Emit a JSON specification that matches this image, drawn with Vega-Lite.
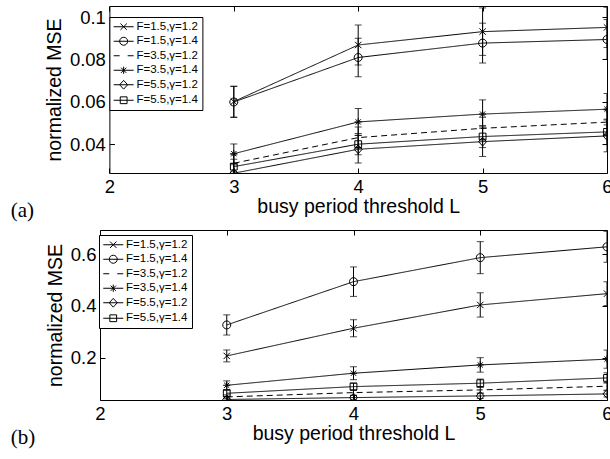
{
  "$schema": "https://vega.github.io/schema/vega-lite/v6.json",
  "padding": {"left": 10, "top": 5, "right": 0, "bottom": 0},
  "spacing": 8,
  "background": "white",
  "config": {
    "view": {"stroke": "black", "strokeWidth": 1},
    "axis": {"grid": false, "domain": false, "domainColor": "black", "domainWidth": 1, "tickColor": "black", "labelColor": "black", "titleColor": "black", "labelFont": "Liberation Sans", "titleFont": "Liberation Sans", "titleFontWeight": "normal", "labelFontSize": 18.5, "titleFontSize": 19.5, "tickSize": -5, "labelPadding": 9, "labelFlush": false, "labelOverlap": false},
    "legend": {"title": null, "padding": 4, "fillColor": "white", "strokeColor": "black", "labelFont": "Liberation Sans", "labelFontSize": 11.5, "labelColor": "black", "symbolSize": 100, "symbolStrokeColor": "black", "symbolStrokeWidth": 1, "symbolFillColor": "transparent", "symbolOpacity": 1, "symbolOffset": 4.5, "labelOffset": 7, "rowPadding": 1.5, "cornerRadius": 0}
  },
  "datasets": {
    "a": [
      {"L": 3, "series": "F=1.5,γ=1.2", "mse": 0.0601, "err": 0.0073},
      {"L": 4, "series": "F=1.5,γ=1.2", "mse": 0.0868, "err": 0.0094},
      {"L": 5, "series": "F=1.5,γ=1.2", "mse": 0.0931, "err": 0.0112},
      {"L": 6, "series": "F=1.5,γ=1.2", "mse": 0.0951, "err": 0.0095},
      {"L": 3, "series": "F=1.5,γ=1.4", "mse": 0.0599, "err": 0.0073},
      {"L": 4, "series": "F=1.5,γ=1.4", "mse": 0.0809, "err": 0.0091},
      {"L": 5, "series": "F=1.5,γ=1.4", "mse": 0.0877, "err": 0.0094},
      {"L": 6, "series": "F=1.5,γ=1.4", "mse": 0.0894, "err": 0.0094},
      {"L": 3, "series": "F=3.5,γ=1.2", "mse": 0.0310, "err": 0.0040},
      {"L": 4, "series": "F=3.5,γ=1.2", "mse": 0.0431, "err": 0.0050},
      {"L": 5, "series": "F=3.5,γ=1.2", "mse": 0.0475, "err": 0.0052},
      {"L": 6, "series": "F=3.5,γ=1.2", "mse": 0.0504, "err": 0.0058},
      {"L": 3, "series": "F=3.5,γ=1.4", "mse": 0.0355, "err": 0.0046},
      {"L": 4, "series": "F=3.5,γ=1.4", "mse": 0.0505, "err": 0.0063},
      {"L": 5, "series": "F=3.5,γ=1.4", "mse": 0.0542, "err": 0.0067},
      {"L": 6, "series": "F=3.5,γ=1.4", "mse": 0.0565, "err": 0.0074},
      {"L": 3, "series": "F=5.5,γ=1.2", "mse": 0.0263, "err": 0.0040},
      {"L": 4, "series": "F=5.5,γ=1.2", "mse": 0.0376, "err": 0.0065},
      {"L": 5, "series": "F=5.5,γ=1.2", "mse": 0.0412, "err": 0.0070},
      {"L": 6, "series": "F=5.5,γ=1.2", "mse": 0.0439, "err": 0.0075},
      {"L": 3, "series": "F=5.5,γ=1.4", "mse": 0.0294, "err": 0.0035},
      {"L": 4, "series": "F=5.5,γ=1.4", "mse": 0.0400, "err": 0.0050},
      {"L": 5, "series": "F=5.5,γ=1.4", "mse": 0.0436, "err": 0.0052},
      {"L": 6, "series": "F=5.5,γ=1.4", "mse": 0.0458, "err": 0.0060}
    ],
    "b": [
      {"L": 3, "series": "F=1.5,γ=1.2", "mse": 0.2066, "err": 0.023},
      {"L": 4, "series": "F=1.5,γ=1.2", "mse": 0.3137, "err": 0.033},
      {"L": 5, "series": "F=1.5,γ=1.2", "mse": 0.404, "err": 0.047},
      {"L": 6, "series": "F=1.5,γ=1.2", "mse": 0.4476, "err": 0.046},
      {"L": 3, "series": "F=1.5,γ=1.4", "mse": 0.3265, "err": 0.039},
      {"L": 4, "series": "F=1.5,γ=1.4", "mse": 0.494, "err": 0.057},
      {"L": 5, "series": "F=1.5,γ=1.4", "mse": 0.587, "err": 0.062},
      {"L": 6, "series": "F=1.5,γ=1.4", "mse": 0.629, "err": 0.06},
      {"L": 3, "series": "F=3.5,γ=1.2", "mse": 0.048, "err": 0.008},
      {"L": 4, "series": "F=3.5,γ=1.2", "mse": 0.0646, "err": 0.01},
      {"L": 5, "series": "F=3.5,γ=1.2", "mse": 0.075, "err": 0.012},
      {"L": 6, "series": "F=3.5,γ=1.2", "mse": 0.0893, "err": 0.015},
      {"L": 3, "series": "F=3.5,γ=1.4", "mse": 0.093, "err": 0.017},
      {"L": 4, "series": "F=3.5,γ=1.4", "mse": 0.1396, "err": 0.025},
      {"L": 5, "series": "F=3.5,γ=1.4", "mse": 0.1718, "err": 0.028},
      {"L": 6, "series": "F=3.5,γ=1.4", "mse": 0.194, "err": 0.035},
      {"L": 3, "series": "F=5.5,γ=1.2", "mse": 0.038, "err": 0.006},
      {"L": 4, "series": "F=5.5,γ=1.2", "mse": 0.0453, "err": 0.008},
      {"L": 5, "series": "F=5.5,γ=1.2", "mse": 0.0518, "err": 0.01},
      {"L": 6, "series": "F=5.5,γ=1.2", "mse": 0.0596, "err": 0.012},
      {"L": 3, "series": "F=5.5,γ=1.4", "mse": 0.062, "err": 0.012},
      {"L": 4, "series": "F=5.5,γ=1.4", "mse": 0.0878, "err": 0.014},
      {"L": 5, "series": "F=5.5,γ=1.4", "mse": 0.101, "err": 0.016},
      {"L": 6, "series": "F=5.5,γ=1.4", "mse": 0.1215, "err": 0.02}
    ]
  },
  "vconcat": [
    {
      "width": 507,
      "height": 167,
      "view": {"stroke": null},
      "data": {"name": "a"},
      "title": {"text": "(a)", "orient": "bottom", "anchor": "start", "frame": "group", "font": "Liberation Serif", "fontSize": 21, "fontWeight": "normal", "color": "black", "dx": -89.3, "dy": -16, "offset": 0},
      "resolve": {"scale": {"shape": "independent"}, "axis": {"x": "independent", "y": "independent"}},
      "layer": [
        {
          "mark": {"type": "errorbar", "ticks": {"size": 7, "color": "black"}, "color": "black", "thickness": 1, "clip": true},
          "encoding": {
            "x": {"field": "L", "type": "quantitative", "scale": {"domain": [2, 6], "range": [9.4, 507]}, "axis": null},
            "y": {"field": "mse", "type": "quantitative", "scale": {"domain": [0.0264, 0.1052]}, "axis": null},
            "yError": {"field": "err"},
            "detail": {"field": "series"}
          }
        },
        {
          "mark": {"type": "line", "color": "black", "strokeWidth": 1, "clip": true},
          "encoding": {
            "x": {"field": "L", "type": "quantitative", "scale": {"domain": [2, 6], "range": [9.4, 507]}, "axis": {"orient": "bottom", "domain": true, "values": [2, 3, 4, 5, 6], "format": "d", "title": "busy period threshold L", "titlePadding": 2}},
            "y": {"field": "mse", "type": "quantitative", "scale": {"domain": [0.0264, 0.1052]}, "axis": {"orient": "left", "domain": true, "offset": -9.4, "values": [0.04, 0.06, 0.08, 0.1], "format": "~g", "title": "normalized MSE", "titlePadding": 5}},
            "strokeDash": {"field": "series", "type": "nominal", "scale": {"domain": ["F=1.5,γ=1.2", "F=1.5,γ=1.4", "F=3.5,γ=1.2", "F=3.5,γ=1.4", "F=5.5,γ=1.2", "F=5.5,γ=1.4"], "range": [[1, 0], [1, 0], [6, 4], [1, 0], [1, 0], [1, 0]]}, "legend": null}
          }
        },
        {
          "transform": [{"filter": "datum.series != 'F=3.5,γ=1.2'"}],
          "mark": {"type": "point", "filled": false, "color": "black", "strokeWidth": 1, "size": 64, "opacity": 1, "clip": true},
          "encoding": {
            "x": {"field": "L", "type": "quantitative", "scale": {"domain": [2, 6], "range": [9.4, 507]}, "axis": {"orient": "top", "domain": true, "values": [2, 3, 4, 5, 6], "labels": false, "title": null}},
            "y": {"field": "mse", "type": "quantitative", "scale": {"domain": [0.0264, 0.1052]}, "axis": {"orient": "right", "domain": true, "values": [0.04, 0.06, 0.08, 0.1], "labels": false, "title": null}},
            "shape": {"field": "series", "type": "nominal", "scale": {"domain": ["F=1.5,γ=1.2", "F=1.5,γ=1.4", "F=3.5,γ=1.4", "F=5.5,γ=1.2", "F=5.5,γ=1.4"], "range": ["M-0.8,-0.8L0.8,0.8M-0.8,0.8L0.8,-0.8", "M1,0A1,1,0,1,1,-1,0A1,1,0,1,1,1,0Z", "M-0.9,0H0.9M0,-0.9V0.9M-0.65,-0.65L0.65,0.65M-0.65,0.65L0.65,-0.65", "M0,-1.1L1,0L0,1.1L-1,0Z", "M-0.85,-0.85H0.85V0.85H-0.85Z"]}, "legend": null}
          }
        },
        {
          "mark": {"type": "point", "filled": false, "color": "black", "size": 100, "opacity": 0},
          "encoding": {
            "x": {"field": "L", "type": "quantitative", "scale": {"domain": [2, 6], "range": [9.4, 507]}, "axis": null},
            "y": {"field": "mse", "type": "quantitative", "scale": {"domain": [0.0264, 0.1052]}, "axis": null},
            "shape": {"field": "series", "type": "nominal", "scale": {"domain": ["F=1.5,γ=1.2", "F=1.5,γ=1.4", "F=3.5,γ=1.2", "F=3.5,γ=1.4", "F=5.5,γ=1.2", "F=5.5,γ=1.4"], "range": ["M-2,0H2M-0.64,-0.64L0.64,0.64M-0.64,0.64L0.64,-0.64", "M-2,0H2M0.8,0A0.8,0.8,0,1,1,-0.8,0A0.8,0.8,0,1,1,0.8,0Z", "M-2,0H-0.8M0.8,0H2", "M-2,0H2M0,-0.72V0.72M-0.52,-0.52L0.52,0.52M-0.52,0.52L0.52,-0.52", "M-2,0H2M0,-0.88L0.8,0L0,0.88L-0.8,0Z", "M-2,0H2M-0.68,-0.68H0.68V0.68H-0.68Z"]}, "legend": {"orient": "none", "legendX": 9.4, "legendY": 11}}
          }
        }
      ]
    },
    {
      "width": 507,
      "height": 170,
      "data": {"name": "b"},
      "title": {"text": "(b)", "orient": "bottom", "anchor": "start", "frame": "group", "font": "Liberation Serif", "fontSize": 21, "fontWeight": "normal", "color": "black", "dx": -89.3, "dy": -16, "offset": 0},
      "resolve": {"scale": {"shape": "independent"}, "axis": {"x": "independent", "y": "independent"}},
      "layer": [
        {
          "mark": {"type": "errorbar", "ticks": {"size": 7, "color": "black"}, "color": "black", "thickness": 1, "clip": true},
          "encoding": {
            "x": {"field": "L", "type": "quantitative", "scale": {"domain": [2, 6]}, "axis": null},
            "y": {"field": "mse", "type": "quantitative", "scale": {"domain": [0.036, 0.694]}, "axis": null},
            "yError": {"field": "err"},
            "detail": {"field": "series"}
          }
        },
        {
          "mark": {"type": "line", "color": "black", "strokeWidth": 1, "clip": true},
          "encoding": {
            "x": {"field": "L", "type": "quantitative", "scale": {"domain": [2, 6]}, "axis": {"orient": "bottom", "values": [2, 3, 4, 5, 6], "format": "d", "title": "busy period threshold L", "titlePadding": 2}},
            "y": {"field": "mse", "type": "quantitative", "scale": {"domain": [0.036, 0.694]}, "axis": {"orient": "left", "values": [0.2, 0.4, 0.6], "format": "~g", "title": "normalized MSE", "titlePadding": 5}},
            "strokeDash": {"field": "series", "type": "nominal", "scale": {"domain": ["F=1.5,γ=1.2", "F=1.5,γ=1.4", "F=3.5,γ=1.2", "F=3.5,γ=1.4", "F=5.5,γ=1.2", "F=5.5,γ=1.4"], "range": [[1, 0], [1, 0], [6, 4], [1, 0], [1, 0], [1, 0]]}, "legend": null}
          }
        },
        {
          "transform": [{"filter": "datum.series != 'F=3.5,γ=1.2'"}],
          "mark": {"type": "point", "filled": false, "color": "black", "strokeWidth": 1, "size": 64, "opacity": 1, "clip": true},
          "encoding": {
            "x": {"field": "L", "type": "quantitative", "scale": {"domain": [2, 6]}, "axis": {"orient": "top", "values": [2, 3, 4, 5, 6], "labels": false, "title": null}},
            "y": {"field": "mse", "type": "quantitative", "scale": {"domain": [0.036, 0.694]}, "axis": {"orient": "right", "values": [0.2, 0.4, 0.6], "labels": false, "title": null}},
            "shape": {"field": "series", "type": "nominal", "scale": {"domain": ["F=1.5,γ=1.2", "F=1.5,γ=1.4", "F=3.5,γ=1.4", "F=5.5,γ=1.2", "F=5.5,γ=1.4"], "range": ["M-0.8,-0.8L0.8,0.8M-0.8,0.8L0.8,-0.8", "M1,0A1,1,0,1,1,-1,0A1,1,0,1,1,1,0Z", "M-0.9,0H0.9M0,-0.9V0.9M-0.65,-0.65L0.65,0.65M-0.65,0.65L0.65,-0.65", "M0,-1.1L1,0L0,1.1L-1,0Z", "M-0.85,-0.85H0.85V0.85H-0.85Z"]}, "legend": null}
          }
        },
        {
          "mark": {"type": "point", "filled": false, "color": "black", "size": 100, "opacity": 0},
          "encoding": {
            "x": {"field": "L", "type": "quantitative", "scale": {"domain": [2, 6]}, "axis": null},
            "y": {"field": "mse", "type": "quantitative", "scale": {"domain": [0.036, 0.694]}, "axis": null},
            "shape": {"field": "series", "type": "nominal", "scale": {"domain": ["F=1.5,γ=1.2", "F=1.5,γ=1.4", "F=3.5,γ=1.2", "F=3.5,γ=1.4", "F=5.5,γ=1.2", "F=5.5,γ=1.4"], "range": ["M-2,0H2M-0.64,-0.64L0.64,0.64M-0.64,0.64L0.64,-0.64", "M-2,0H2M0.8,0A0.8,0.8,0,1,1,-0.8,0A0.8,0.8,0,1,1,0.8,0Z", "M-2,0H-0.8M0.8,0H2", "M-2,0H2M0,-0.72V0.72M-0.52,-0.52L0.52,0.52M-0.52,0.52L0.52,-0.52", "M-2,0H2M0,-0.88L0.8,0L0,0.88L-0.8,0Z", "M-2,0H2M-0.68,-0.68H0.68V0.68H-0.68Z"]}, "legend": {"orient": "none", "legendX": -1, "legendY": 5}}
          }
        }
      ]
    }
  ]
}
